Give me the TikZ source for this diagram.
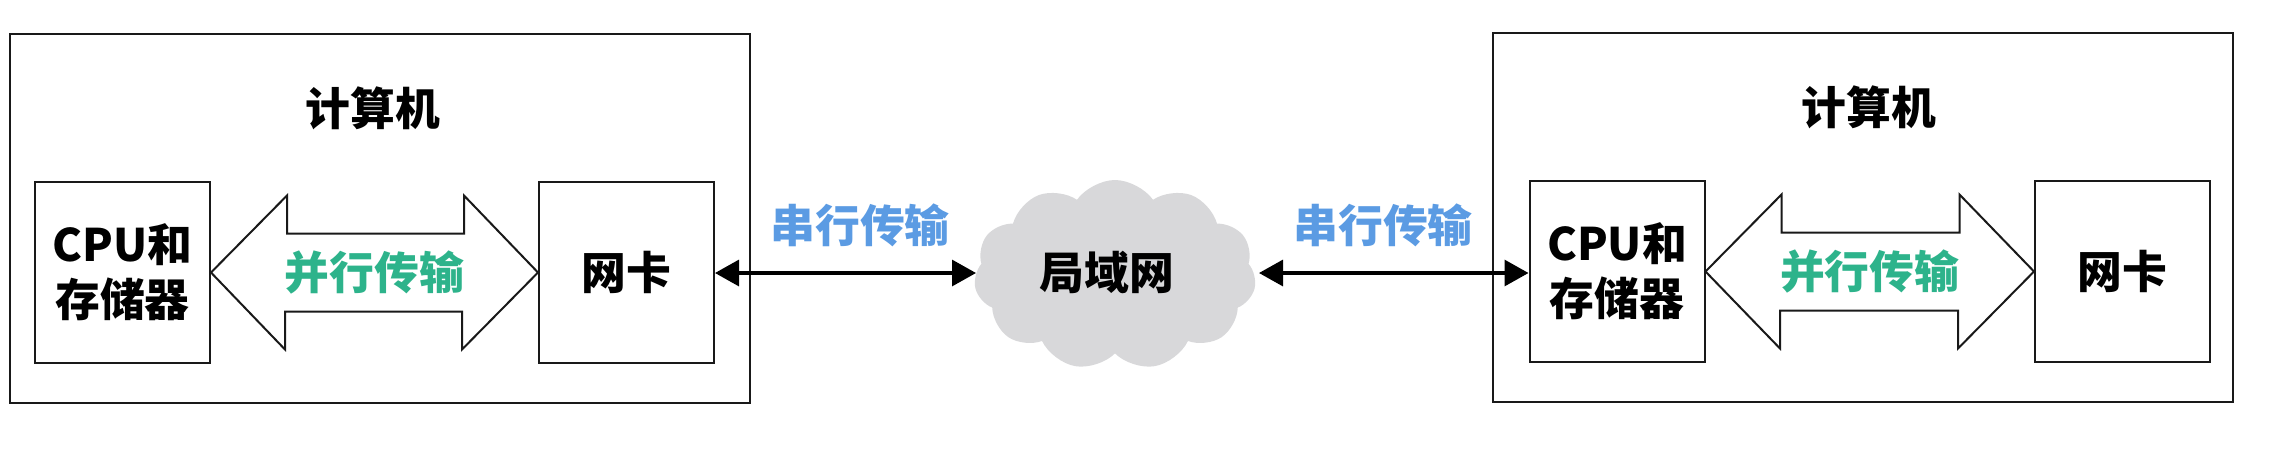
\documentclass[tikz,border=0pt]{standalone}
\usepackage{fontspec}
\setmainfont{Noto Sans CJK SC}
\usetikzlibrary{shapes.symbols,arrows.meta,calc}
\definecolor{pgreen}{HTML}{2DB38B}
\definecolor{sblue}{HTML}{5B9BE3}
\definecolor{cloudgray}{HTML}{D8D8DA}
\tikzset{
  txt/.style={font=\fontsize{22.4}{27.5}\selectfont\bfseries, align=center, inner sep=0pt},
  outerbox/.style={draw=black!90, line width=1.1pt, inner sep=0pt, minimum width=370pt, minimum height=184.5pt},
  innerbox/.style={draw=black!90, line width=1pt, inner sep=0pt, minimum width=87.5pt, minimum height=90.5pt, txt},
  dblarrow/.style={draw=black!90, line width=1pt, line join=miter, fill=white},
  serial/.style={line width=1.6pt, {Triangle[length=12pt,width=13pt]}-{Triangle[length=12pt,width=13pt]}, shorten <=0pt, shorten >=0pt},
  lannet/.style={cloud, cloud puffs=11, cloud puff arc=110, cloud ignores aspect, fill=cloudgray, draw=none, minimum width=141pt, minimum height=95pt, inner sep=0pt},
}
\begin{document}
\begin{tikzpicture}[x=0.5pt,y=-0.5pt]
\useasboundingbox (0,0) rectangle (2272,452);
% outer boxes
\node[outerbox] (compL) at (380,218.5) {};
\node[outerbox] (compR) at (1863,217.5) {};
\node[txt] (titleL) at (373,108) {计算机};
\node[txt] (titleR) at (1869,107) {计算机};
% inner boxes
\node[innerbox] (cpuL) at (122.5,272.5) {CPU和\\存储器};
\node[innerbox] (nicL) at (626.5,272.5) {网卡};
\node[innerbox] (cpuR) at (1617,271.5) {CPU和\\存储器};
\node[innerbox] (nicR) at (2122.5,271.5) {网卡};
% parallel double arrows
\draw[dblarrow] (cpuL.east) -- ++(76,-77) -- ++(0,38) -- ++(177,0) -- ++(0,-38) -- (nicL.west) -- ++(-76,77) -- ++(0,-38) -- ++(-177,0) -- ++(0,38) -- cycle;
\node[txt, text=pgreen] (parL) at ($(cpuL.east)!0.5!(nicL.west)$) {并行传输};
\draw[dblarrow] (cpuR.east) -- ++(76,-77) -- ++(0,38) -- ++(178,0) -- ++(0,-38) -- (nicR.west) -- ++(-76,77) -- ++(0,-38) -- ++(-178,0) -- ++(0,38) -- cycle;
\node[txt, text=pgreen] (parR) at ($(cpuR.east)!0.5!(nicR.west)$) {并行传输};
% cloud
\node[lannet] (lan) at (1115,275) {};
\node[txt] (lantxt) at (1107,272) {局域网};
% serial links
\coordinate (lanW) at (976,273);
\coordinate (lanE) at (1259,273);
\draw[serial] (nicL.east |- lanW) -- (lanW);
\draw[serial] (lanE) -- (cpuR.west |- lanE);
\node[txt, text=sblue] (serL) at (860,225) {串行传输};
\node[txt, text=sblue] (serR) at (1383,225) {串行传输};
\end{tikzpicture}
\end{document}
